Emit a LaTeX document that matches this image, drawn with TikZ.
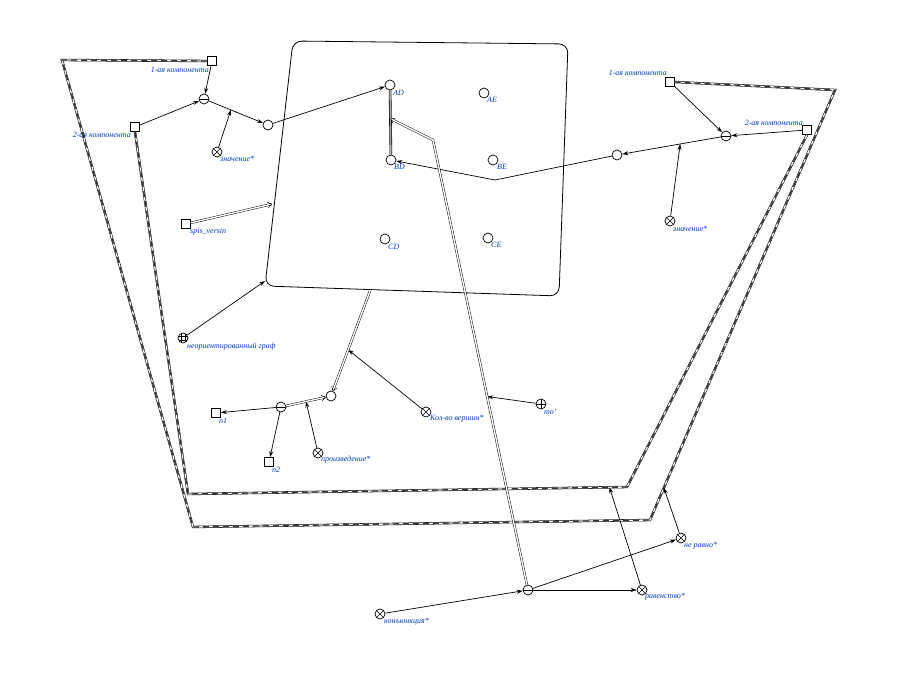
\documentclass[tikz,border=0pt]{standalone}
\usepackage{fontspec}
\setmainfont{Liberation Serif}
\usetikzlibrary{arrows.meta,calc}
\definecolor{lblblue}{RGB}{0,60,200}
\begin{document}
\begin{tikzpicture}[x=1pt,y=-1pt,
  every node/.style={inner sep=0pt},
  vtx/.style={circle,draw,line width=0.7pt,minimum size=10pt,fill=white},
  sqr/.style={rectangle,draw,line width=0.7pt,minimum size=9pt,fill=white},
  opx/.style={vtx,path picture={\draw[line width=0.6pt]
      (path picture bounding box.north west)--(path picture bounding box.south east)
      (path picture bounding box.south west)--(path picture bounding box.north east);}},
  opminus/.style={vtx,path picture={\draw[line width=0.6pt]
      (path picture bounding box.west)--(path picture bounding box.east);}},
  opplus/.style={vtx,path picture={\draw[line width=0.6pt]
      (path picture bounding box.west)--(path picture bounding box.east)
      (path picture bounding box.north)--(path picture bounding box.south);}},
  opgrid/.style={vtx,path picture={\draw[line width=0.5pt]
      ($(path picture bounding box.center)+(-2,-6)$) -- ++(0,12)
      ($(path picture bounding box.center)+(2,-6)$) -- ++(0,12)
      ($(path picture bounding box.center)+(-6,-2)$) -- ++(12,0)
      ($(path picture bounding box.center)+(-6,2)$) -- ++(12,0);}},
  lbl/.style={font=\fontsize{8}{9}\selectfont\itshape, text=lblblue},
  arr/.style={line width=0.7pt, -{Stealth[length=6pt,width=4pt]}},
  dbl/.style={double=white, double distance=1.4pt, line width=0.45pt,
      -{Straight Barb[length=4pt,width=6pt]}},
  contour/.style={line width=2.4pt, draw=black, line join=miter,
      postaction={draw=white, line width=1.3pt},
      postaction={draw=black!80, line width=1.3pt, dash pattern=on 6pt off 4pt}},
  pair/.style={line width=2.6pt, draw=black,
      postaction={draw=black!35, line width=1.4pt}}
]
\useasboundingbox (0,0) rectangle (898,674);

% frame of the graph structure
\coordinate (bTL) at (293,41);
\coordinate (bTR) at (568,44);
\coordinate (bBR) at (559,296);
\coordinate (bBL) at (265,286);
\draw[line width=0.8pt, rounded corners=9pt] (bTL) -- (bTR) -- (bBR) -- (bBL) -- cycle;

% edge vertices inside the frame
\node[vtx] (AD) at (390,85) {};
\node[vtx] (AE) at (484,93) {};
\node[vtx] (BD) at (391,160) {};
\node[vtx] (BE) at (493,160) {};
\node[vtx] (CD) at (385,239) {};
\node[vtx] (CE) at (488,238) {};
\node[lbl,anchor=west] at (393,93) {AD};
\node[lbl,anchor=west] at (487,100) {AE};
\node[lbl,anchor=west] at (394,167) {BD};
\node[lbl,anchor=west] at (497,167) {BE};
\node[lbl,anchor=west] at (388,247) {CD};
\node[lbl,anchor=west] at (491,245) {CE};
\draw[pair] (AD) -- (BD);

% left component pair
\node[sqr] (sqL1) at (212,61) {};
\node[sqr] (sqL2) at (135,127) {};
\node[opminus] (minL) at (204,99) {};
\node[vtx] (cL) at (268,125) {};
\node[opx] (valL) at (217,152) {};
\node[lbl,anchor=east] at (209,70) {1-ая компонента};
\node[lbl,anchor=east] at (131,135) {2-ая компонента};
\node[lbl,anchor=west] at (220,159) {значение*};

% right component pair
\node[sqr] (sqR1) at (670,82) {};
\node[sqr] (sqR2) at (807,130) {};
\node[opminus] (minR) at (726,136) {};
\node[vtx] (cR) at (617,155) {};
\node[opx] (valR) at (670,221) {};
\node[lbl,anchor=east] at (667,73) {1-ая компонента};
\node[lbl,anchor=east] at (803,123) {2-ая компонента};
\node[lbl,anchor=west] at (673,229) {значение*};

% outer contours
\coordinate (k1) at (62,60);
\coordinate (k2) at (193,527);
\coordinate (k3) at (650,520);
\coordinate (k4) at (835,90);
\coordinate (k5) at (188,494);
\coordinate (k6) at (627,487);
\draw[contour] (sqL1.west) -- (k1) -- (k2) -- (k3) -- (k4) -- (sqR1.east);
\draw[contour] (sqL2.south) -- (k5) -- (k6) -- (sqR2.south);

% remaining nodes
\node[sqr] (spis) at (186,224) {};
\node[lbl,anchor=west] at (190,232) {spis\_versin};
\node[opgrid] (graph) at (183,338) {};
\node[lbl,anchor=west] at (187,347) {неориентированный граф};
\node[vtx] (cM) at (331,396) {};
\node[opminus] (minM) at (281,407) {};
\node[sqr] (n1) at (216,413) {};
\node[sqr] (n2) at (269,462) {};
\node[lbl,anchor=west] at (219,421) {n1};
\node[lbl,anchor=west] at (272,470) {n2};
\node[opx] (prod) at (318,453) {};
\node[lbl,anchor=west] at (321,460) {произведение*};
\node[opx] (kol) at (426,412) {};
\node[lbl,anchor=west] at (430,419) {Кол-во вершин*};
\node[opplus] (to) at (541,404) {};
\node[lbl,anchor=west] at (544,412) {то'};
\node[opx] (kon) at (380,614) {};
\node[lbl,anchor=west] at (384,622) {конъюнкция*};
\node[opminus] (minB) at (528,590) {};
\node[opx] (rav) at (642,590) {};
\node[lbl,anchor=west] at (645,597) {равенство*};
\node[opx] (ne) at (681,538) {};
\node[lbl,anchor=west] at (684,546) {не равно*};

% helper points on connectors
\coordinate (mL) at ($(minL)!0.42!(cL)$);
\coordinate (mR) at ($(minR)!0.42!(cR)$);
\coordinate (bendR) at (495,180);
\coordinate (edgeS) at (272,204);
\coordinate (cornerG) at (265,281);
\coordinate (boxB) at (370,291);
\coordinate (mK) at ($(boxB)!0.56!(cM)$);
\coordinate (mP) at ($(minM)!0.5!(cM)$);
\coordinate (bendD) at (433,140);
\coordinate (mADBD) at ($(AD)!0.45!(BD)$);
\coordinate (mT) at ($(minB)!0.43!(bendD)$);
\coordinate (mRav) at ($(k5)!0.96!(k6)$);
\coordinate (mNe) at ($(k3)!0.075!(k4)$);

% single arcs
\draw[arr] (sqL1) -- (minL);
\draw[arr] (sqL2) -- (minL);
\draw[arr] (minL) -- (cL);
\draw[arr] (valL) -- (mL);
\draw[arr] (cL) -- (AD);
\draw[arr] (sqR1) -- (minR);
\draw[arr] (sqR2) -- (minR);
\draw[arr] (minR) -- (cR);
\draw[arr] (valR) -- (mR);
\draw[arr] (cR) -- (bendR) -- (BD);
\draw[arr] (graph) -- (cornerG);
\draw[arr] (kol) -- (mK);
\draw[arr] (minM) -- (n1);
\draw[arr] (minM) -- (n2);
\draw[arr] (prod) -- (mP);
\draw[arr] (to) -- (mT);
\draw[arr] (kon) -- (minB);
\draw[arr] (minB) -- (rav);
\draw[arr] (minB) -- (ne);
\draw[arr] (rav) -- (mRav);
\draw[arr] (ne) -- (mNe);

% double arcs
\draw[dbl] (spis) -- (edgeS);
\draw[dbl] (boxB) -- (cM);
\draw[dbl] (minM) -- (cM);
\draw[dbl] (minB) -- (bendD) -- (mADBD);
\end{tikzpicture}
\end{document}
